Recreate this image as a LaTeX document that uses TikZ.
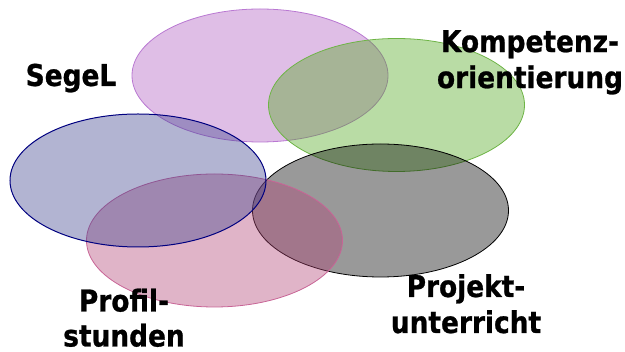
\documentclass[tikz,border=0pt]{standalone}
\usepackage{fontspec}
\newfontfamily\labfont{DejaVu Sans}[FakeStretch=0.88, BoldFeatures={FakeBold=0.8}]
\usetikzlibrary{shapes.geometric}
\definecolor{cpurple}{RGB}{175,92,192}
\definecolor{cpurpleline}{RGB}{185,120,210}
\definecolor{cgreen}{RGB}{80,167,30}
\definecolor{cgreenline}{RGB}{110,180,70}
\definecolor{cblue}{RGB}{62,67,142}
\definecolor{cblueline}{RGB}{0,0,128}
\definecolor{cpink}{RGB}{177,67,117}
\definecolor{cpinkline}{RGB}{200,100,150}
\begin{document}
\begin{tikzpicture}[x=1pt,y=-1pt,
  ell/.style={ellipse, minimum width=256pt, minimum height=133pt, inner sep=0pt,
              fill opacity=0.4, draw opacity=1, line width=0.8pt},
  lab/.style={font=\labfont\bfseries\fontsize{30}{36}\selectfont, align=center,
              inner sep=0pt, text=black, anchor=north}]
\useasboundingbox (0,0) rectangle (625,352);
\node[ell, fill=cpurple, draw=cpurpleline] (segelE) at (260,75.5) {};
\node[ell, fill=cgreen, draw=cgreenline] (kompE) at (396.5,105) {};
\node[ell, fill=black, draw=black] (projE) at (380.5,210.5) {};
\node[ell, fill=cpink, draw=cpinkline] (profE) at (214.5,240.5) {};
\node[ell, fill=cblue, draw=cblueline, line width=1pt] (blueE) at (138,180.5) {};
\node[lab] (segel) at (71,63.5) {SegeL};
\node[lab] (komp) at (530,30) {Kompetenz-\\orientierung};
\node[lab, font=\labfont\bfseries\fontsize{30}{35}\selectfont] (prof) at (124,288.5) {Profil-\\stunden};
\node[lab] (proj) at (466,274) {Projekt-\\unterricht};
\end{tikzpicture}
\end{document}
